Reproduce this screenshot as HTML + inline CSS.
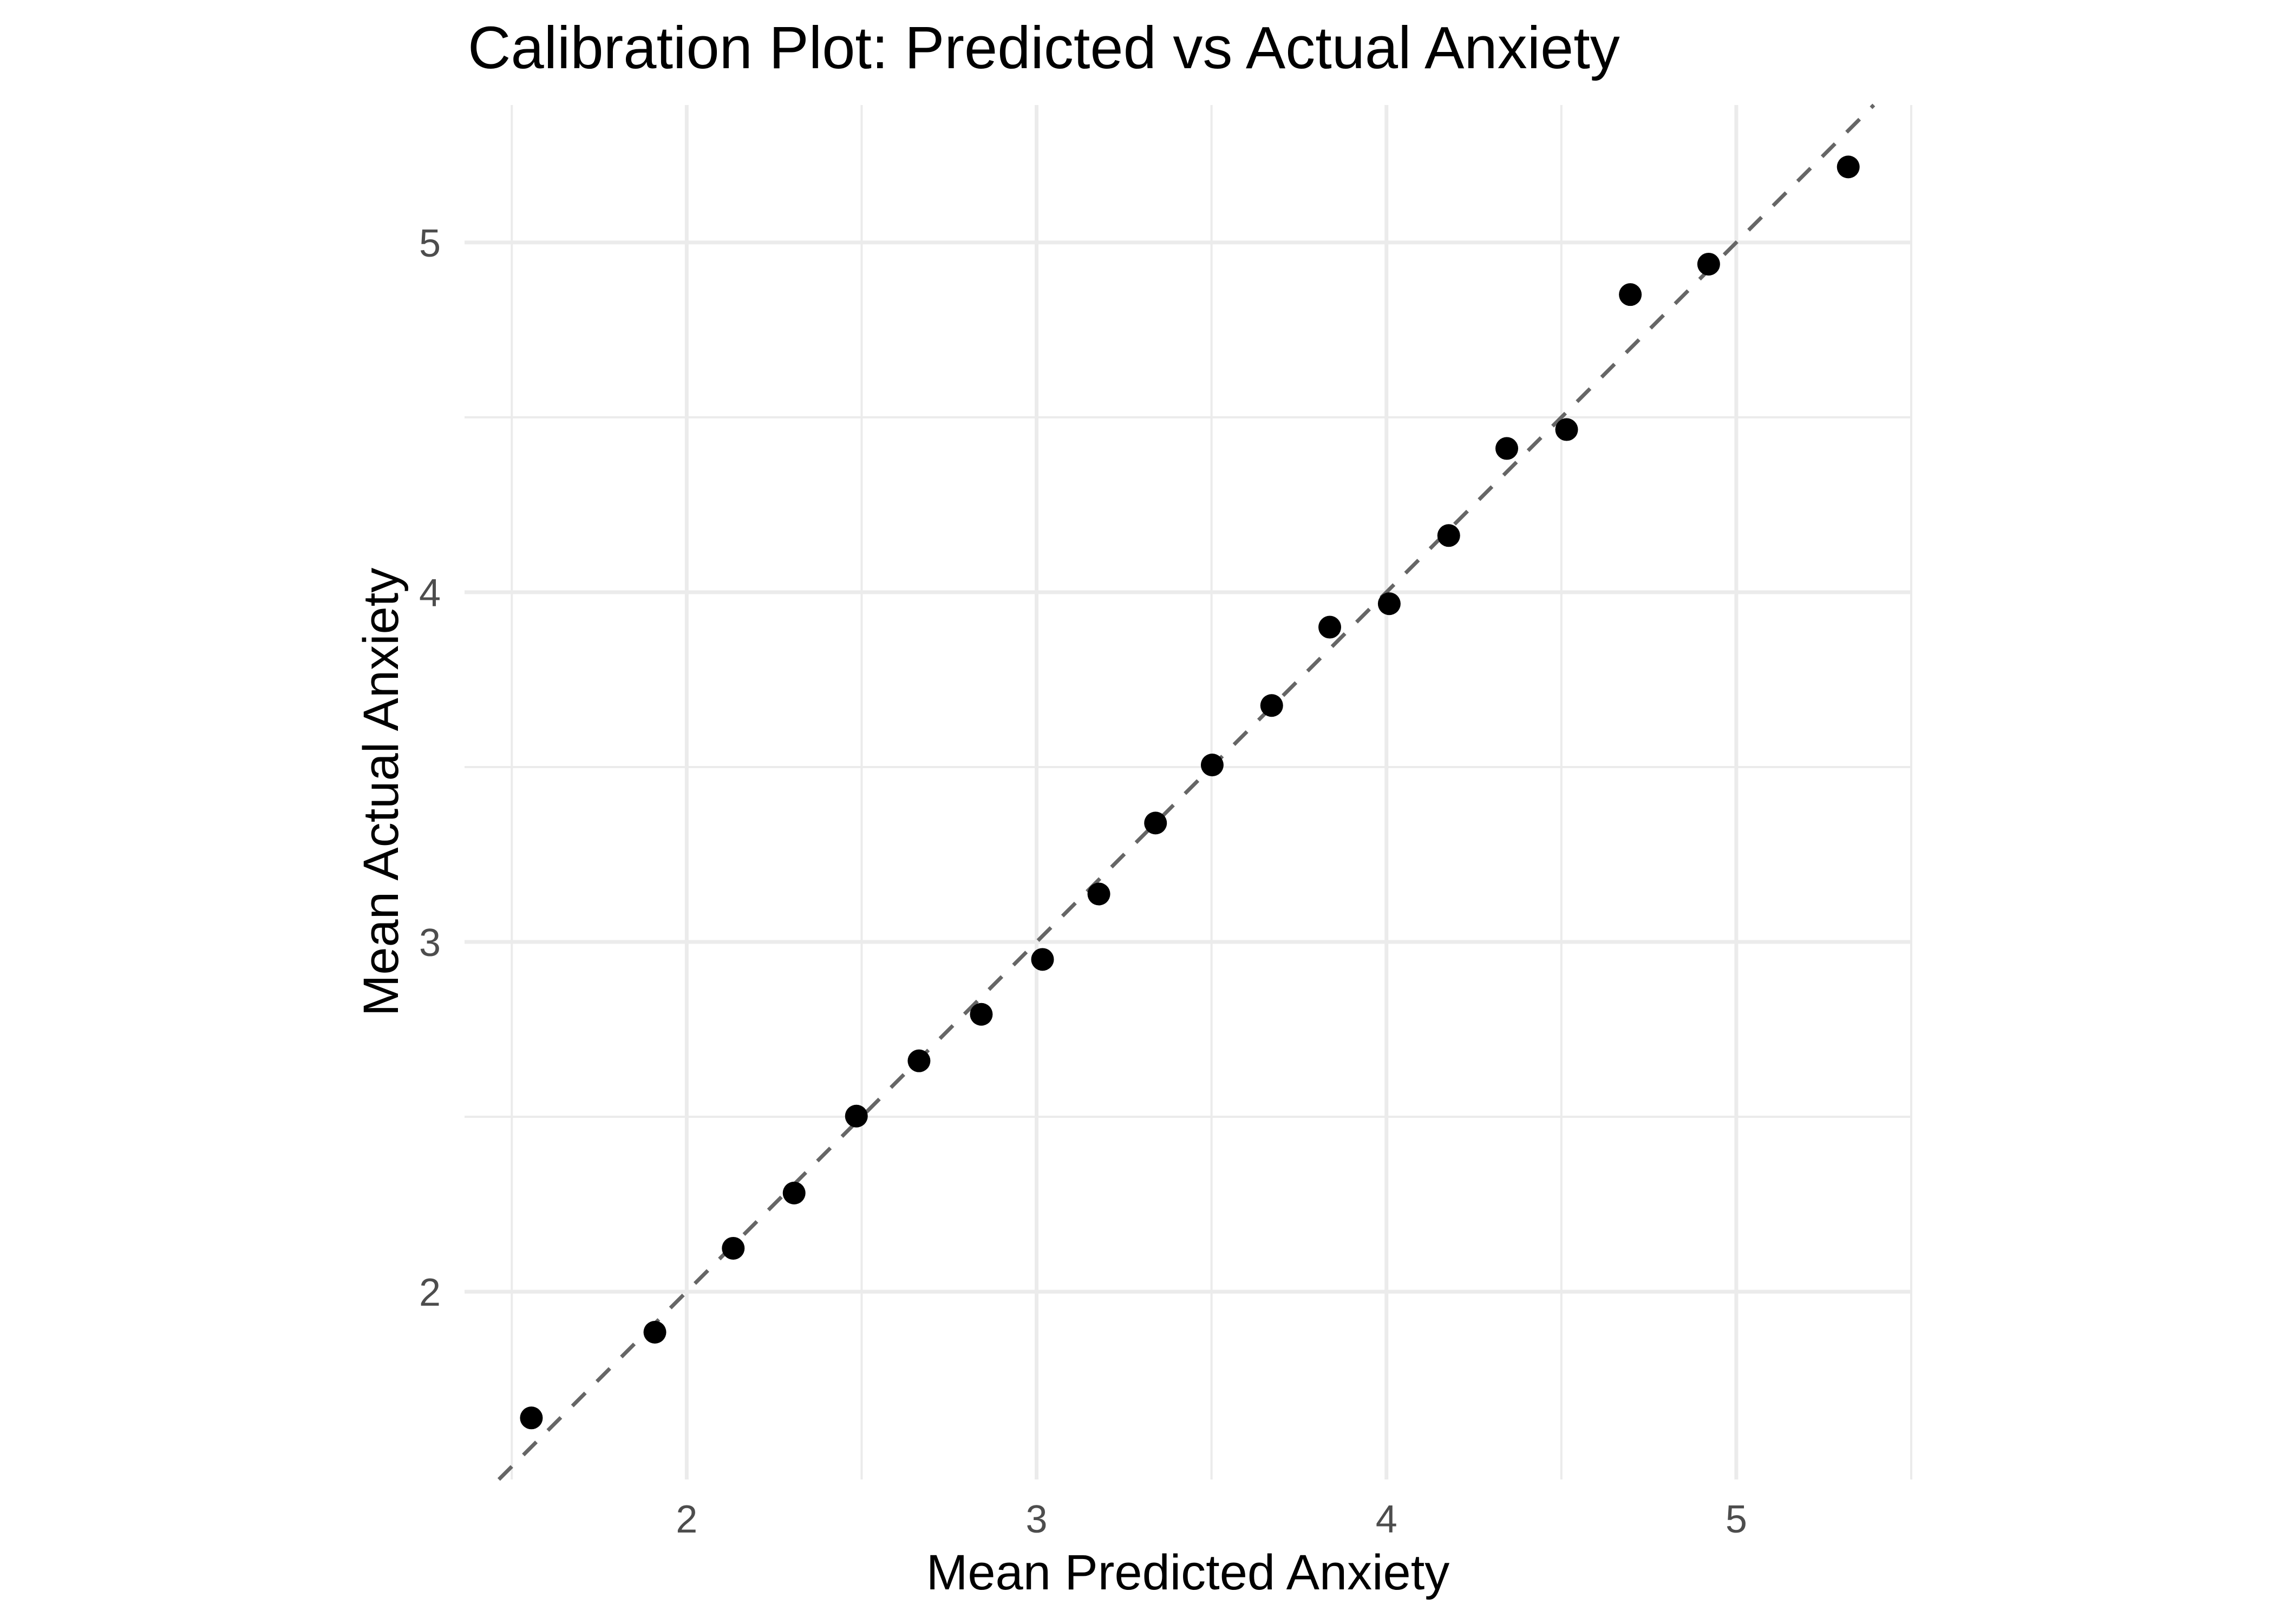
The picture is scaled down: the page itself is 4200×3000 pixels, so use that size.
<!DOCTYPE html>
<html><head><meta charset="utf-8"><style>
html,body{margin:0;padding:0;background:#fff;}
svg{display:block;font-family:"Liberation Sans",Arial,sans-serif;}
</style></head><body>
<svg id="chart" width="4200" height="3000" viewBox="0 0 4200 3000" xmlns="http://www.w3.org/2000/svg">
<rect width="4200" height="3000" fill="#fff"/>
<text x="864" y="126" font-size="110" fill="#000">Calibration Plot: Predicted vs Actual Anxiety</text>
<g id="grid"></g>
<g id="ref"></g>
<g id="pts"></g>
<g id="ticks"></g>
<text x="2194" y="2936" font-size="92" text-anchor="middle" fill="#000">Mean Predicted Anxiety</text>
<text transform="translate(735,1463) rotate(-90)" font-size="92" text-anchor="middle" fill="#000">Mean Actual Anxiety</text>
</svg>
<script>
const predicted = [1.556,1.909,2.133,2.307,2.485,2.664,2.842,3.017,3.178,3.340,3.502,3.672,3.838,4.008,4.178,4.344,4.515,4.697,4.921,5.320];
const actual = [1.639,1.884,2.124,2.282,2.502,2.660,2.793,2.950,3.137,3.340,3.506,3.676,3.900,3.967,4.162,4.411,4.465,4.851,4.938,5.216];
const xTicks = [2,3,4,5];
const yTicks = [2,3,4,5];
const xMinor = [1.5,2.5,3.5,4.5,5.5];
const yMinor = [2.5,3.5,4.5];
const xDomain = [1.365,5.5];
const yDomain = [1.463,5.393];

const L=858,R=3530,T=194,B=2733;
const NS="http://www.w3.org/2000/svg";
const sx=v=>L+(v-xDomain[0])/(xDomain[1]-xDomain[0])*(R-L);
const sy=v=>B-(v-yDomain[0])/(yDomain[1]-yDomain[0])*(B-T);
function mk(tag,attrs,parent){const e=document.createElementNS(NS,tag);for(const k in attrs)e.setAttribute(k,attrs[k]);parent.appendChild(e);return e;}
const grid=document.getElementById('grid');
xMinor.forEach(v=>{const e=mk('line',{x1:sx(v),x2:sx(v),y1:T,y2:B,stroke:'#ebebeb','stroke-width':4},grid);

});
yMinor.forEach(v=>{const e=mk('line',{x1:L,x2:R,y1:sy(v),y2:sy(v),stroke:'#ebebeb','stroke-width':4},grid);

});
xTicks.forEach(v=>{const e=mk('line',{x1:sx(v),x2:sx(v),y1:T,y2:B,stroke:'#ebebeb','stroke-width':7},grid);

});
yTicks.forEach(v=>{const e=mk('line',{x1:L,x2:R,y1:sy(v),y2:sy(v),stroke:'#ebebeb','stroke-width':7},grid);

});
const ticks=document.getElementById('ticks');
xTicks.forEach(v=>{const t=mk('text',{x:sx(v),y:2831,'font-size':72,fill:'#4d4d4d','text-anchor':'middle'},ticks);t.textContent=v;

});
yTicks.forEach(v=>{const t=mk('text',{x:814,y:sy(v)+26,'font-size':72,fill:'#4d4d4d','text-anchor':'end'},ticks);t.textContent=v;

});
const ref=document.getElementById('ref');
const lo=Math.max(xDomain[0],yDomain[0]),hi=Math.min(xDomain[1],yDomain[1]);
const ln=mk('line',{x1:sx(lo),y1:sy(lo),x2:sx(hi),y2:sy(hi),stroke:'#666','stroke-width':7,'stroke-dasharray':'34 30'},ref);


const pts=document.getElementById('pts');
predicted.forEach((p,i)=>{const c=mk('circle',{cx:sx(p),cy:sy(actual[i]),r:21,fill:'#000'},pts);

});
</script>
</body></html>
